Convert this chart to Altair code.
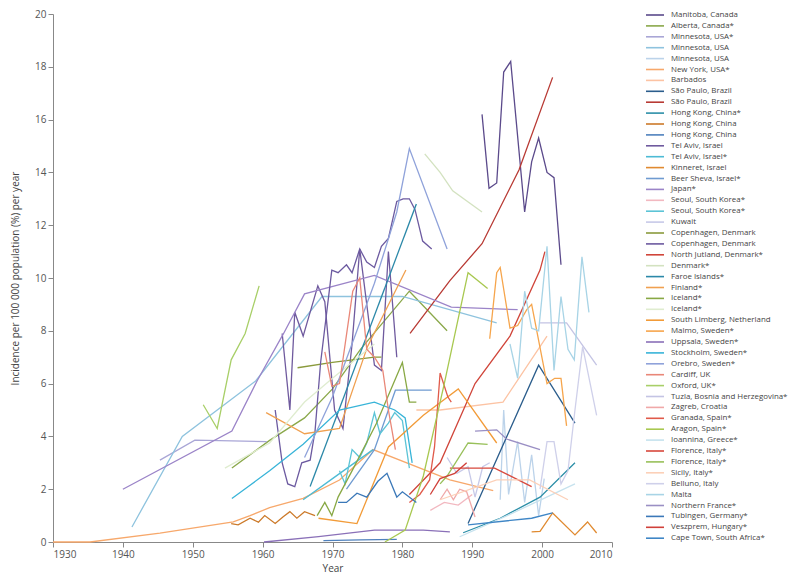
import json
import altair as alt
import pandas as pd

NAMES = [
    "Manitoba, Canada", "Alberta, Canada*", "Minnesota, USA*", "Minnesota, USA", "Minnesota, USA",
    "New York, USA*", "Barbados", "São Paulo, Brazil", "São Paulo, Brazil", "Hong Kong, China*",
    "Hong Kong, China", "Hong Kong, China", "Tel Aviv, Israel", "Tel Aviv, Israel*", "Kinneret, Israel",
    "Beer Sheva, Israel*", "Japan*", "Seoul, South Korea*", "Seoul, South Korea*", "Kuwait",
    "Copenhagen, Denmark", "Copenhagen, Denmark", "North Jutland, Denmark*", "Denmark*", "Faroe Islands*",
    "Finland*", "Iceland*", "Iceland*", "South Limberg, Netherland", "Malmo, Sweden*",
    "Uppsala, Sweden*", "Stockholm, Sweden*", "Orebro, Sweden*", "Cardiff, UK", "Oxford, UK*",
    "Tuzla, Bosnia and Herzegovina*", "Zagreb, Croatia", "Granada, Spain*", "Aragon, Spain*", "Ioannina, Greece*",
    "Florence, Italy*", "Florence, Italy*", "Sicily, Italy*", "Belluno, Italy", "Malta",
    "Northern France*", "Tubingen, Germany*", "Veszprem, Hungary*", "Cape Town, South Africa*",
]

COLORS = [
    "#5b4a8b", "#8aa84a", "#a9a6d6", "#8ec3de", "#bcd3ea",
    "#f7a86b", "#fcc3a3", "#2b5d8c", "#b83a34", "#2c8fa8",
    "#cc7a2a", "#4f81bd", "#6f5a9e", "#4dbbd5", "#e08a30",
    "#6f9bd1", "#9b84c8", "#f2b8c0", "#5cc4d6", "#c7c9e8",
    "#8a9a3c", "#6c5aa0", "#d0453a", "#d3e2c0", "#2b88a8",
    "#f0a050", "#88a844", "#dfeccf", "#f29b38", "#f6a54c",
    "#8a70b8", "#38b4d8", "#8fa2da", "#e98778", "#a8cf68",
    "#c4c4e4", "#f0a8a8", "#e05a4a", "#a8c850", "#c6e2ee",
    "#d8483c", "#98c05a", "#fcd0b8", "#cfd0ea", "#a8d4e6",
    "#9a8fc4", "#3b78b8", "#d0403a", "#3f86c6",
]

# (years, incidence) per series, in legend order
s01 = ([1991.4, 1992.4, 1993.5, 1994.5, 1995.5, 1997.5, 1998.5, 1999.5, 2000.7, 2001.7, 2002.7],
       [16.2, 13.4, 13.6, 17.8, 18.2, 12.5, 14.4, 15.3, 14.0, 13.8, 10.5])
s02 = ([1955.6, 1961, 1966, 1970, 1974, 1981, 1986.4],
       [2.8, 3.85, 4.7, 5.8, 7.3, 9.5, 8.0])
s03 = ([1945.3, 1950.3, 1960.6],
       [3.1, 3.86, 3.8])
s04 = ([1941.3, 1948.5, 1959, 1968.5, 1980, 1993.5],
       [0.57, 4.0, 6.1, 9.3, 9.3, 8.3])
s05 = ([1994.0, 1994.5, 1995.2, 1996.5, 1997.5, 1998.5, 1999.5, 2000.3],
       [1.6, 5.0, 1.8, 3.8, 1.5, 3.3, 1.0, 2.4])
s06 = ([1930, 1935.3, 1945.3, 1955.8, 1958.2, 1961, 1965.8, 1971, 1975.8, 1986.8, 1993],
       [0.0, 0.0, 0.34, 0.76, 1.0, 1.3, 1.65, 2.35, 3.5, 2.35, 1.95])
s07 = ([1982, 1985.4, 1994.4, 2000.7],
       [5.0, 5.0, 5.3, 7.8])
s08 = ([1989.4, 1999.5, 2004.7],
       [0.7, 6.7, 4.5])
s09 = ([1981.1, 1986.8, 1991.4, 1996.7, 2001.5],
       [7.9, 9.9, 11.3, 14.1, 17.6])
s10 = ([1988.7, 1994, 1999.7, 2004.7],
       [0.35, 0.9, 1.7, 3.0])
s11 = ([1955.5, 1956.5, 1958.2, 1959.4, 1960.3, 1961.8, 1962.9, 1963.9, 1964.9, 1966, 1967.5],
       [0.7, 0.65, 0.9, 0.75, 1.0, 0.7, 0.95, 1.15, 0.9, 1.15, 1.0])
s12 = ([1968.7, 1974, 1979.2],
       [0.05, 0.08, 0.1])
s13 = ([1962.8, 1963.9, 1964.6, 1965.8, 1967.9, 1968.9, 1970.3, 1971.5, 1972.8, 1973.9, 1976, 1977, 1978, 1979.2],
       [7.9, 5.0, 8.7, 7.8, 9.7, 9.1, 5.0, 4.3, 7.5, 11.1, 6.7, 6.5, 11.0, 7.0])
s14 = ([1965.8, 1970, 1975.8],
       [1.6, 2.4, 3.5])
s15 = ([1998.5, 1999.7, 2001.5, 2004.7, 2006.5, 2007.8],
       [0.38, 0.4, 1.1, 0.27, 0.76, 0.34])
s16 = ([1972, 1976, 1979, 1984.2],
       [2.0, 3.5, 5.75, 5.75])
s17 = ([1940, 1955.6, 1959.2, 1963, 1966, 1976, 1987, 1996.5],
       [2.0, 4.2, 6.1, 7.9, 9.4, 10.1, 8.9, 8.8])
s18 = ([1984, 1986, 1988, 1990],
       [1.2, 1.5, 1.4, 1.8])
s19 = ([1971, 1971.8, 1972.8, 1973.9, 1974.9, 1976, 1976.8, 1978, 1978.9, 1980, 1981],
       [2.7, 2.2, 3.5, 3.2, 3.75, 4.9, 4.1, 4.5, 4.9, 4.6, 2.8])
s20 = ([1986.4, 1987.8, 1989.4, 1990.4, 1991.5, 1992.5],
       [3.2, 2.6, 2.85, 1.7, 2.85, 3.0])
s21 = ([1965, 1970, 1976, 1977],
       [6.6, 6.8, 7.0, 7.0])
s22 = ([1961.8, 1962.8, 1963.6, 1964.6, 1965.6, 1966.8, 1967.5, 1968.3, 1969.9, 1970.8, 1972, 1972.8,
        1973.9, 1974.9, 1976, 1977, 1978, 1979.2, 1980.1, 1981, 1981.8, 1982.9, 1984.2],
       [5.0, 3.0, 2.2, 2.1, 3.0, 3.1, 4.2, 6.8, 10.3, 10.2, 10.5, 10.2,
        11.1, 10.6, 10.4, 11.2, 11.5, 12.9, 13.0, 13.0, 12.6, 11.4, 11.1])
s23 = ([1981, 1985.4, 1990.4, 1995.4, 1999.7, 2000.4],
       [1.8, 3.0, 6.0, 7.8, 10.3, 11.0])
s24 = ([1983.2, 1985.4, 1987.2, 1991.4],
       [14.7, 14.0, 13.3, 12.5])
s25 = ([1966.8, 1982],
       [2.1, 12.8])
s26 = ([1960.5, 1966, 1971, 1975, 1980.5],
       [4.9, 4.1, 4.3, 7.4, 10.3])
s27 = ([1967.8, 1968.9, 1969.9, 1970.8, 1973, 1976.3, 1980, 1981, 1982],
       [1.0, 1.5, 1.0, 1.7, 2.8, 4.5, 6.8, 5.3, 5.3])
s28 = ([1954.6, 1961, 1966, 1970, 1976],
       [2.8, 3.75, 5.3, 6.2, 7.5])
s29 = ([1968, 1973.5, 1978, 1983, 1988, 1993.5],
       [0.9, 0.7, 3.6, 4.8, 5.8, 3.75])
s30 = ([1992.5, 1993.5, 1994, 1995.4, 1996.5, 1997.8, 1998.5, 2000.7, 2001.8, 2002.7, 2003.5],
       [7.7, 10.2, 10.4, 8.1, 8.2, 8.8, 9.0, 6.0, 6.2, 6.2, 4.4])
s31 = ([1960.2, 1968, 1976, 1983, 1986.8],
       [0.0, 0.2, 0.45, 0.45, 0.38])
s32 = ([1955.6, 1958.2, 1961, 1965.8, 1971, 1976, 1978.9, 1980.4, 1981.4],
       [1.65, 2.15, 2.7, 3.7, 5.0, 5.3, 5.0, 4.7, 3.0])
s33 = ([1966, 1970, 1976, 1979.2, 1981, 1986.4],
       [3.2, 5.5, 9.8, 12.5, 14.9, 11.1])
s34 = ([1968.9, 1969.9, 1971, 1972.9, 1973.9, 1974.9, 1976, 1977.2, 1978, 1979],
       [7.2, 5.9, 6.0, 9.5, 10.0, 7.3, 7.0, 6.5, 5.0, 3.5])
s35 = ([1951.5, 1953.5, 1955.5, 1957.5, 1959.5],
       [5.2, 4.3, 6.9, 7.9, 9.7])
s36 = ([1999.7, 2003.5, 2007.8],
       [8.3, 8.3, 6.7])
s37 = ([1985.4, 1986.4, 1987.3, 1988.2, 1989.2, 1990.4],
       [1.6, 2.0, 1.6, 2.0, 1.9, 0.95])
s38 = ([1981, 1982.5, 1983.9, 1984.6, 1985.4, 1986.5, 1987],
       [1.5, 1.8, 2.35, 3.6, 6.4, 5.5, 5.3])
s39 = ([1977.5, 1980.4, 1983, 1986, 1989.4, 1992.2],
       [0.0, 0.45, 2.5, 6.0, 10.2, 9.6])
s40 = ([1988.2, 1995, 2004.7],
       [0.2, 1.0, 2.2])
s41 = ([1986.8, 1993.2, 1998.5],
       [2.8, 2.8, 2.1])
s42 = ([1985.4, 1986.4, 1989.4, 1992.2],
       [2.2, 2.5, 3.75, 3.7])
s43 = ([1985.4, 1993.5, 1998.2, 2003.7],
       [1.6, 2.35, 2.35, 1.6])
s44 = ([1999.7, 2000.7, 2001.7, 2002.7, 2003.7, 2004.7, 2005.8, 2007.8],
       [2.0, 3.8, 3.8, 2.2, 2.7, 5.0, 7.4, 4.8])
s45 = ([1995.4, 1996.5, 1997.5, 1998.5, 1999.5, 2000.7, 2001.7, 2002.7, 2003.7, 2004.6, 2005.7, 2006.7],
       [7.5, 6.2, 9.5, 8.1, 8.0, 11.2, 6.5, 9.3, 7.3, 6.9, 10.8, 8.7])
s46 = ([1990.4, 1993.5, 1994.9, 1999.7],
       [4.2, 4.25, 3.9, 3.5])
s47 = ([1970.8, 1972, 1973.5, 1974.9, 1976.5, 1977.8, 1979.2, 1980, 1982],
       [1.5, 1.5, 1.85, 1.7, 2.3, 2.6, 1.7, 1.9, 1.5])
s48 = ([1984, 1985.4, 1987.5, 1989.2],
       [1.8, 2.4, 2.6, 3.0])
s49 = ([1989.4, 1998.5, 2001.5],
       [0.65, 0.9, 1.1])

SERIES = [s01, s02, s03, s04, s05, s06, s07, s08, s09, s10, s11, s12, s13, s14, s15, s16, s17,
          s18, s19, s20, s21, s22, s23, s24, s25, s26, s27, s28, s29, s30, s31, s32, s33, s34,
          s35, s36, s37, s38, s39, s40, s41, s42, s43, s44, s45, s46, s47, s48, s49]

rows = []
for i, (xs, ys) in enumerate(SERIES):
    key = f"{i + 1:02d}"
    for x, y in zip(xs, ys):
        rows.append({"key": key, "year": x, "value": y})
df = pd.DataFrame(rows)

keys = [f"{i + 1:02d}" for i in range(len(NAMES))]
label_expr = json.dumps(NAMES, ensure_ascii=False) + "[toNumber(datum.value) - 1]"

FONT = "Open Sans"

chart = alt.Chart(df).mark_line(strokeWidth=1.3).encode(
    x=alt.X("year:Q", scale=alt.Scale(domain=[1930, 2010], nice=False),
            axis=alt.Axis(values=list(range(1930, 2011, 10)), format="d", title="Year")),
    y=alt.Y("value:Q", scale=alt.Scale(domain=[0, 20], nice=False),
            axis=alt.Axis(values=list(range(0, 21, 2)),
                          title="Incidence per 100 000 population (%) per year")),
    color=alt.Color("key:N", scale=alt.Scale(domain=keys, range=COLORS),
                    legend=alt.Legend(title=None, orient="none", legendX=596, legendY=-5,
                                      labelExpr=label_expr, symbolType="M-1.8,0L1.8,0",
                                      symbolStrokeWidth=1.6, symbolSize=100,
                                      labelOffset=10,
                                      labelFontSize=7.9, labelColor="#444", labelFont=FONT,
                                      rowPadding=0.9, symbolLimit=100, labelLimit=200)),
    detail="key:N",
).properties(
    width=559, height=528,
    padding={"left": 45, "top": 6, "right": 180, "bottom": 31},
    autosize=alt.AutoSizeParams(type="none"),
).configure_view(stroke=None).configure_axis(
    grid=False, domainColor="#888", tickColor="#888", tickSize=5,
    labelFont=FONT, labelFontSize=10, labelColor="#555",
    titleFont=FONT, titleFontSize=10, titleColor="#444", titleFontWeight="normal",
).configure_axisY(titlePadding=14).configure_axisX(titlePadding=4)

chart.save("out.html", embed_options={"renderer": "svg", "actions": False})
